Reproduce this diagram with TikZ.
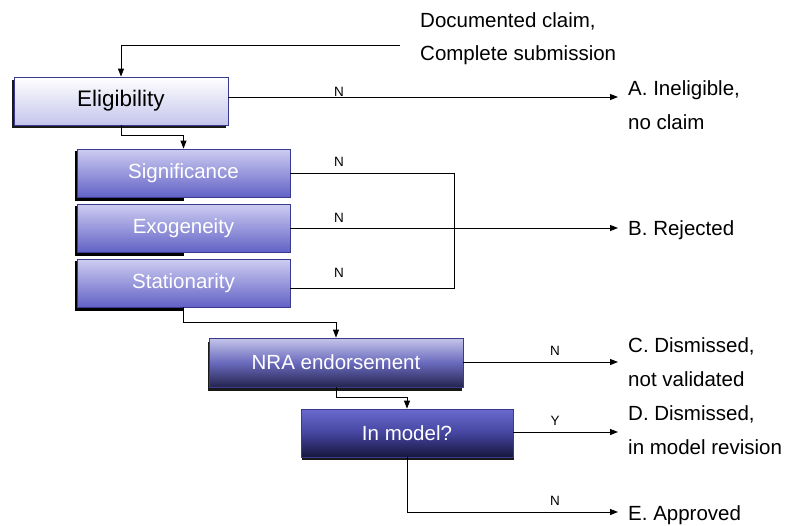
\documentclass[tikz,border=0pt]{standalone}
\usepackage{fontspec}
\setmainfont{Liberation Sans}
\usetikzlibrary{arrows.meta,shadows,backgrounds}
\definecolor{boxedge}{HTML}{3A3A90}
\definecolor{eligbot}{HTML}{C5C5EC}
\definecolor{lavtop}{HTML}{CDCDF2}
\definecolor{bluebot}{HTML}{6262C6}
\definecolor{nratop}{HTML}{C6C6EA}
\definecolor{nramid}{HTML}{6A6ABE}
\definecolor{nrabot}{HTML}{25254F}
\definecolor{inmtop}{HTML}{6A6ACE}
\definecolor{inmmid}{HTML}{4545A0}
\definecolor{inmbot}{HTML}{16163E}
\begin{document}
\begin{tikzpicture}[x=1pt,y=-1pt,
  basebox/.style={draw=boxedge, line width=0.8pt, inner sep=0pt, minimum width=213pt, minimum height=48pt},
  eligbox/.style={basebox, minimum width=214pt, top color=white, bottom color=eligbot, text=black,
     font=\fontsize{22.5}{26}\selectfont,
     drop shadow={shadow xshift=-2pt, shadow yshift=-3pt, fill=black, opacity=0.9}},
  critbox/.style={basebox, top color=lavtop, bottom color=bluebot, text=white, font=\fontsize{20.5}{24}\selectfont},
  nrabox/.style={basebox, minimum width=254pt, minimum height=49pt, top color=nratop, bottom color=nrabot, middle color=nramid,
     text=white, font=\fontsize{20.5}{24}\selectfont,
     drop shadow={shadow xshift=-1.5pt, shadow yshift=-3.5pt, fill=black, opacity=0.9}},
  inmbox/.style={basebox, minimum width=212pt, top color=inmtop, bottom color=inmbot, middle color=inmmid,
     text=white, font=\fontsize{20.5}{24}\selectfont,
     drop shadow={shadow xshift=0.5pt, shadow yshift=-3pt, fill=black, opacity=0.9}},
  arr/.style={line width=1pt, -{Triangle[length=8pt,width=6pt]}},
  plain/.style={line width=1pt},
  nlab/.style={anchor=base, inner sep=0pt, font=\fontsize{13.5}{15}\selectfont},
  outlab/.style={anchor=base west, inner sep=0pt, font=\fontsize{20.5}{24}\selectfont},
]
\useasboundingbox (0,0) rectangle (787,525);

% boxes
\node[eligbox] (elig) at (121,101) {Eligibility};
\node[critbox] (sig) at (183.5,173) {Significance};
\node[critbox] (exo) at (183.5,228) {Exogeneity};
\node[critbox] (sta) at (183.5,283) {Stationarity};
\node[nrabox] (nra) at (336,362.5) {NRA endorsement};
\node[inmbox] (inm) at (407,433) {In model?};

\begin{scope}[on background layer]
  \fill[white] (0,0) rectangle (787,525);
  \foreach \b in {sig,exo,sta}
    \fill[black] ([shift={(-1.5,2)}]\b.north west) rectangle ([shift={(0,4)}]\b.south);
\end{scope}

% texts
\node[outlab] (doc1) at (420,27) {Documented claim,};
\node[outlab] (doc2) at (420,60) {Complete submission};
\node[outlab] (A1) at (628,95) {A. Ineligible,};
\node[outlab] (A2) at (628,129) {no claim};
\node[outlab] (B1) at (628,235) {B. Rejected};
\node[outlab] (C1) at (628,352) {C. Dismissed,};
\node[outlab] (C2) at (628,386) {not validated};
\node[outlab] (D1) at (628,420) {D. Dismissed,};
\node[outlab] (D2) at (628,454) {in model revision};
\node[outlab] (E1) at (628,520) {E. Approved};

% connector coordinates
\coordinate (src) at (400,45);
\coordinate (tipA) at (618,97);
\coordinate (jt) at (454,173);
\coordinate (jb) at (454,288);
\coordinate (tipB) at (618,228);
\coordinate (tipC) at (618,362);
\coordinate (tipD) at (618,432);
\coordinate (tipE) at (618,512);

% connectors
\draw[arr] (src) -| (elig.north);
\draw[arr] (elig.east |- tipA) -- (tipA);
\draw[arr] (elig.south) -- ++(0,10) -| (sig.north);
\draw[plain] (sig.east |- jt) -- (jt) -- (jb) -- (sta.east |- jb);
\draw[arr] (exo.east |- tipB) -- (tipB);
\draw[arr] (sta.south) -- ++(0,15) -| (nra.north);
\draw[arr] (nra.east |- tipC) -- (tipC);
\draw[arr] (nra.south) -- ++(0,10) -| (inm.north);
\draw[arr] (inm.east |- tipD) -- (tipD);
\draw[arr] (inm.south) |- (tipE);

% branch labels
\node[nlab] (n1) at (339,96) {N};
\node[nlab] (n2) at (339,166) {N};
\node[nlab] (n3) at (339,222) {N};
\node[nlab] (n4) at (339,277) {N};
\node[nlab] (n5) at (555,355) {N};
\node[nlab] (y1) at (555,425) {Y};
\node[nlab] (n6) at (555,505) {N};
\end{tikzpicture}
\end{document}
